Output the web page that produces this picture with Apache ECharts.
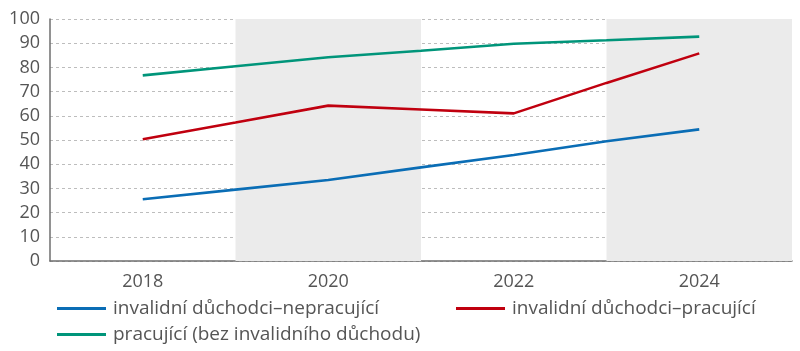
<!DOCTYPE html>
<html>
<head>
<meta charset="utf-8">
<script src="https://cdn.jsdelivr.net/npm/echarts@6/dist/echarts.min.js"></script>
<style>
  html, body { margin: 0; padding: 0; background: #fff; }
  #chart { width: 800px; height: 351px; }
</style>
</head>
<body>
<div id="chart"></div>
<script>
// data
const years = [2018, 2019, 2020, 2021, 2022, 2023, 2024]
const nepracujici = [25.5, 29.5, 33.5, 38.7, 43.8, 49.5, 54.4]
const pracujiciInv = [50.3, 57.2, 64.2, 62.6, 61.0, 73.6, 85.8]
const pracujici = [76.7, 80.5, 84.2, 86.9, 89.8, 91.2, 92.7]
const shadedBands = [[2019, 2021], [2023, 2025]]
const yTicks = [0, 10, 20, 30, 40, 50, 60, 70, 80, 90, 100]

const names = [
  'invalidní důchodci–nepracující',
  'invalidní důchodci–pracující',
  'pracující (bez invalidního důchodu)'
]
const colors = ['#0a6db5', '#c0000f', '#00957a']

const font = 'Open Sans'
const textColor = '#555'

const chart = echarts.init(document.getElementById('chart'))

function pairs(vals) {
  return years.map((y, i) => [y, vals[i]])
}

function lineSeries(name, vals, color, withBands) {
  const s = {
    name: name,
    type: 'line',
    data: pairs(vals),
    showSymbol: false,
    symbol: 'none',
    lineStyle: { width: 2.6, color: color },
    itemStyle: { color: color },
    animation: false,
    z: 3
  }
  // grey bands behind the lines
  if (withBands) {
    s.markArea = {
      silent: true,
      itemStyle: { color: '#ebebeb' },
      data: shadedBands.map(b => [{ xAxis: b[0] }, { xAxis: b[1] }])
    }
  }
  return s
}

function legendAt(name, left, top) {
  return {
    data: [name],
    left: left,
    top: top,
    icon: 'rect',
    itemWidth: 49,
    itemHeight: 3,
    itemGap: 8,
    selectedMode: false,
    textStyle: { fontFamily: font, fontSize: 19, color: textColor, padding: [0, 0, 0, 2] }
  }
}

chart.setOption({
  animation: false,
  grid: { left: 50, right: 8, top: 19, bottom: 90 },
  legend: [
    legendAt(names[0], 52, 294),
    legendAt(names[1], 451, 294),
    legendAt(names[2], 52, 320)
  ],
  xAxis: {
    type: 'value',
    min: 2017,
    max: 2025,
    interval: 1,
    axisLine: { show: true, lineStyle: { color: '#6e6e6e', width: 1.5 } },
    axisTick: { show: false },
    splitLine: { show: false },
    axisLabel: {
      fontFamily: font,
      fontSize: 18,
      color: textColor,
      margin: 12,
      formatter: v => (years.indexOf(v) >= 0 && v % 2 === 0) ? String(v) : ''
    }
  },
  yAxis: {
    type: 'value',
    min: yTicks[0],
    max: yTicks[yTicks.length - 1],
    interval: 10,
    axisLine: { show: true, lineStyle: { color: '#6e6e6e', width: 1.5 } },
    axisTick: { show: false },
    splitLine: { show: true, lineStyle: { color: '#bdbdbd', type: [3, 3], width: 1 } },
    axisLabel: { fontFamily: font, fontSize: 18, color: textColor, margin: 10 }
  },
  series: [
    lineSeries(names[0], nepracujici, colors[0], true),
    lineSeries(names[1], pracujiciInv, colors[1], false),
    lineSeries(names[2], pracujici, colors[2], false)
  ]
})
</script>
</body>
</html>
